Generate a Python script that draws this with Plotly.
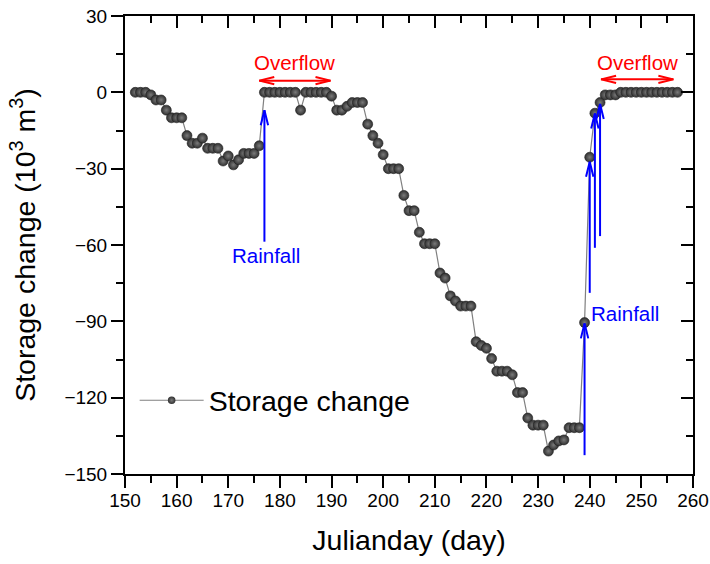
import plotly.graph_objects as go

# Daily storage change of the reservoir (10^3 m^3), Julian days 152-257
days = list(range(152, 258))
storage_change = [
    0, 0, 0, -1, -3, -3, -7, -10, -10, -10,             # 152-161
    -17, -20, -20, -18, -22, -22, -22, -27, -25, -28.5,  # 162-171
    -26.5, -24, -24, -24, -21, 0, 0, 0, 0, 0,            # 172-181
    0, 0, -7, 0, 0, 0, 0, 0, -1.5, -7,                   # 182-191
    -7, -5.5, -4, -4, -4, -12.5, -17, -20, -24.5, -30,   # 192-201
    -30, -30, -40.5, -46.5, -46.5, -55, -59.5, -59.5, -59.5, -71,  # 202-211
    -73, -80, -82, -84, -84, -84, -98, -99.5, -100.6, -104.6,      # 212-221
    -109.6, -109.6, -109.6, -111, -118, -118, -128, -130.8, -130.8, -130.8,  # 222-231
    -141, -138.6, -137, -136.6, -131.8, -131.8, -131.8, -90.5, -25.5, -8.2,  # 232-241
    -4, -1, -1, -1, 0, 0, 0, 0, 0, 0,                    # 242-251
    0, 0, 0, 0, 0, 0,                                    # 252-257
]

# Rainfall events: arrow day, arrow tip and tail values
rain_days = [177, 239, 240, 241, 242]
rain_tips = [-7, -90.8, -27.3, -8.3, -4.6]
rain_tails = [-58.7, -142.6, -78.8, -61.1, -56.5]

# Overflow periods: start day, end day, arrow level
overflow_start = [176, 242.2]
overflow_end = [189.8, 256.2]
overflow_level = [4.6, 5.1]

# Axis setup
x_range = [150, 260]
y_range = [-150, 30]
W, H = 710, 564
M = dict(l=125, r=17, t=16, b=90)
px_per_x = (W - M["l"] - M["r"]) / (x_range[1] - x_range[0])
px_per_y = (H - M["t"] - M["b"]) / (y_range[1] - y_range[0])

FONT = "Liberation Sans, Arial, sans-serif"

fig = go.Figure()

fig.add_trace(go.Scatter(
    x=days, y=storage_change, mode="lines+markers",
    line=dict(color="#808080", width=1.2),
    marker=dict(size=10, color="#303030",
                gradient=dict(type="radial", color="#7a7a7a"),
                line=dict(width=0.6, color="#222222")),
    showlegend=False, cliponaxis=False,
))

# legend entry
fig.add_trace(go.Scatter(
    x=[None], y=[None], mode="lines+markers", name="Storage change",
    line=dict(color="#808080", width=1.2),
    marker=dict(size=7.5, color="#303030",
                gradient=dict(type="radial", color="#7a7a7a")),
))

shapes = []
HEAD_LEN = 15   # px
HEAD_HALF = 3.7  # px


def vhead(xt, yt, ux, uy):
    # open V arrowhead at (xt, yt) pointing along pixel direction (ux, uy)
    px, py = -uy, ux
    bx = -ux * HEAD_LEN
    by = -uy * HEAD_LEN
    p1 = (xt + (bx + px * HEAD_HALF) / px_per_x, yt + (by + py * HEAD_HALF) / px_per_y)
    p2 = (xt + (bx - px * HEAD_HALF) / px_per_x, yt + (by - py * HEAD_HALF) / px_per_y)
    return f"M{p1[0]},{p1[1]} L{xt},{yt} L{p2[0]},{p2[1]}"


for d, tip, tail in zip(rain_days, rain_tips, rain_tails):
    shapes.append(dict(type="line", xref="x", yref="y", x0=d, x1=d, y0=tail, y1=tip,
                       line=dict(color="#0000ff", width=2)))
    shapes.append(dict(type="path", xref="x", yref="y", path=vhead(d, tip, 0, 1),
                       line=dict(color="#0000ff", width=2)))

for a, b, lv in zip(overflow_start, overflow_end, overflow_level):
    shapes.append(dict(type="line", xref="x", yref="y", x0=a, x1=b, y0=lv, y1=lv,
                       line=dict(color="#ff0000", width=2)))
    shapes.append(dict(type="path", xref="x", yref="y", path=vhead(a, lv, -1, 0),
                       line=dict(color="#ff0000", width=2)))
    shapes.append(dict(type="path", xref="x", yref="y", path=vhead(b, lv, 1, 0),
                       line=dict(color="#ff0000", width=2)))

annotations = [
    dict(x=(overflow_start[0] + overflow_end[0]) / 2, y=11.8, text="Overflow",
         showarrow=False, font=dict(color="#ff0000", size=20.5, family=FONT)),
    dict(x=(overflow_start[1] + overflow_end[1]) / 2, y=11.8, text="Overflow",
         showarrow=False, font=dict(color="#ff0000", size=20.5, family=FONT)),
    dict(x=177.4, y=-64.3, text="Rainfall", showarrow=False,
         font=dict(color="#0000ff", size=20.5, family=FONT)),
    dict(x=239.9, y=-86.9, text="Rainfall", showarrow=False, xanchor="left",
         font=dict(color="#0000ff", size=20.5, family=FONT)),
]

axis_common = dict(showline=True, linecolor="black", linewidth=2, showgrid=False,
                   zeroline=False, tickcolor="black", tickwidth=2, ticklen=12,
                   automargin=False,
                   tickfont=dict(size=19, color="black", family=FONT))

fig.update_layout(
    width=W, height=H, margin=M,
    paper_bgcolor="white", plot_bgcolor="white",
    font=dict(family=FONT, color="black"),
    xaxis=dict(range=x_range, dtick=10, tick0=150, ticks="outside", ticklabelstandoff=-4,
               minor=dict(dtick=5, ticks="outside", ticklen=7, tickwidth=1.5, tickcolor="black"),
               title=dict(text="Julianday (day)", font=dict(size=28.5, family=FONT), standoff=20),
               **axis_common),
    yaxis=dict(range=y_range, dtick=30, tick0=0, ticks="outside",
               minor=dict(dtick=15, ticks="outside", ticklen=7, tickwidth=1.5, tickcolor="black"),
               title=dict(text="Storage change (10<sup>3</sup> m<sup>3</sup>)",
                          font=dict(size=28.5, family=FONT), standoff=20),
               **axis_common),
    xaxis2=dict(range=x_range, overlaying="x", side="top", dtick=10, tick0=150,
                ticks="inside", showticklabels=False,
                minor=dict(dtick=5, ticks="inside", ticklen=7, tickwidth=1.5, tickcolor="black"),
                **axis_common),
    yaxis2=dict(range=y_range, overlaying="y", side="right", dtick=30, tick0=0,
                ticks="inside", showticklabels=False,
                minor=dict(dtick=15, ticks="inside", ticklen=7, tickwidth=1.5, tickcolor="black"),
                **axis_common),
    legend=dict(x=0.017, y=0.16, xanchor="left", yanchor="middle",
                bgcolor="rgba(0,0,0,0)", itemwidth=64,
                font=dict(size=28.5, family=FONT, color="black")),
    shapes=shapes, annotations=annotations,
)

# invisible trace to draw the top and right frame axes
fig.add_trace(go.Scatter(x=[None], y=[None], xaxis="x2", yaxis="y2",
                         showlegend=False, hoverinfo="skip"))

fig.write_html("out.html")
